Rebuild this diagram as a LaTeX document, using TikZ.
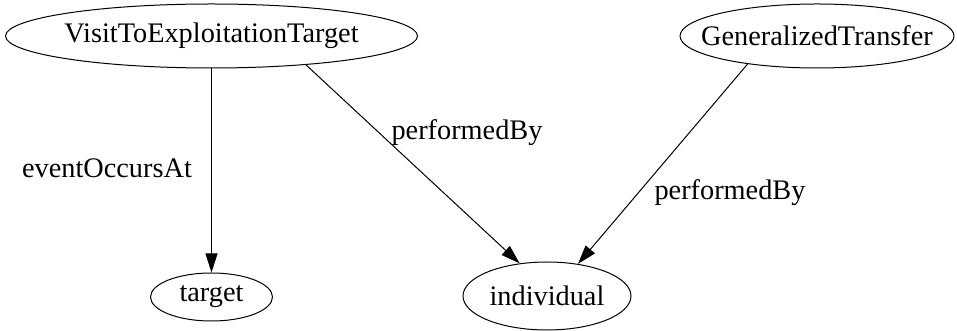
\documentclass[tikz,border=0pt]{standalone}
\usepackage{fontspec}
\setmainfont{Liberation Serif}
\usetikzlibrary{shapes.geometric,arrows.meta}
\begin{document}
\begin{tikzpicture}[x=1pt,y=1pt,
  every node/.style={font=\fontsize{28.3}{34}\selectfont},
  ent/.style={draw,ellipse,inner sep=0pt,line width=1pt},
  lbl/.style={inner sep=0pt},
  conn/.style={draw,line width=1pt,-{Triangle[length=19pt,width=12pt]}}]
\useasboundingbox (0,0) rectangle (957,331);
\node[ent,minimum width=412pt,minimum height=64pt] (V) at (211.5,295) {\makebox[0pt]{VisitToExploitationTarget}};
\node[ent,minimum width=274pt,minimum height=64pt] (G) at (817,295) {\makebox[0pt]{GeneralizedTransfer}};
\node[ent,minimum width=122pt,minimum height=48pt] (T) at (211.5,34) {\makebox[0pt]{target}};
\node[ent,minimum width=168pt,minimum height=68pt] (I) at (547,35) {\makebox[0pt]{individual}};
\draw[conn] (V) -- (T);
\draw[conn] (V.-17) -- (I.130);
\draw[conn] (G.202.6) -- (I.46.7);
\node[lbl] (l1) at (107,163) {eventOccursAt};
\node[lbl] (l2) at (467,198) {performedBy};
\node[lbl] (l3) at (730,138) {performedBy};
\end{tikzpicture}
\end{document}
